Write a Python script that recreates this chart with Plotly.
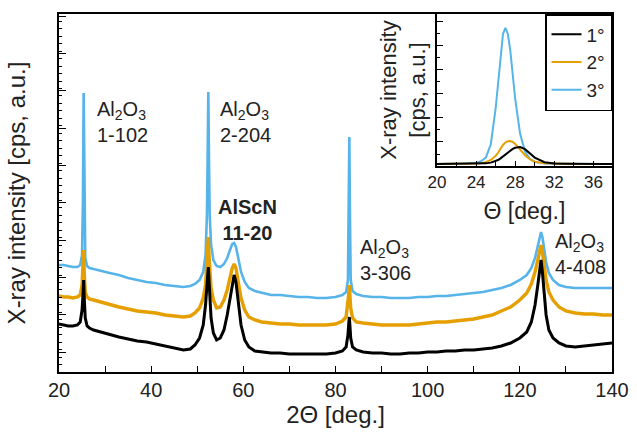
import plotly.graph_objects as go

# ---------------- main XRD scans (2-theta) ----------------
two_theta = [20, 21, 22, 23, 24, 24.6, 25.0, 25.2, 25.35, 25.5,
             25.7, 26.1, 26.6, 27.5, 29, 31, 33, 35, 37, 39,
             41, 43, 45, 47, 48.5, 49.5, 50.5, 51.3, 51.8, 52.1,
             52.25, 52.4, 52.55, 52.7, 53.0, 53.5, 54.2, 55, 55.8, 56.5,
             57.1, 57.6, 58.0, 58.4, 58.9, 59.5, 60.3, 61.2, 62.5, 64,
             66, 68, 70, 72, 74, 76, 78, 80, 81.5, 82.3,
             82.7, 82.85, 83.0, 83.15, 83.3, 83.7, 84.5, 86, 88, 90,
             92, 94, 96, 98, 100, 102, 104, 106, 108, 110,
             112, 114, 116, 118, 120, 121.5, 122.5, 123.3, 123.9, 124.3,
             124.6, 124.9, 125.3, 125.7, 126.3, 127.2, 128.5, 130, 132, 134,
             136, 138, 140]

int_3deg = [107, 107, 106, 105, 105, 107, 117, 172, 279, 172,
            114, 106, 104, 103, 101, 99, 97, 94, 92, 90,
            89, 87, 86, 85, 86, 88, 92, 100, 117, 157,
            212, 280, 212, 157, 127, 112, 106, 105, 108, 114,
            122, 128, 129, 125, 114, 100, 90, 84, 81, 79,
            77, 77, 76, 75, 75, 74, 74, 75, 77, 80,
            92, 152, 235, 152, 92, 81, 78, 76, 75, 75,
            74, 74, 74, 75, 75, 76, 76, 77, 78, 79,
            80, 82, 84, 87, 92, 97, 104, 114, 126, 135,
            140, 135, 122, 110, 99, 92, 87, 85, 84, 84,
            84, 84, 84]

int_2deg = [76, 75, 75, 74, 75, 77, 87, 102, 122, 97,
            80, 75, 73, 72, 70, 67, 65, 63, 61, 60,
            59, 57, 56, 55, 56, 59, 64, 74, 87, 107,
            122, 135, 117, 100, 84, 72, 64, 65, 72, 82,
            94, 104, 108, 104, 90, 74, 62, 55, 52, 50,
            49, 48, 48, 47, 47, 47, 47, 48, 51, 55,
            67, 77, 87, 77, 64, 54, 50, 49, 48, 47,
            47, 47, 47, 48, 49, 50, 50, 51, 52, 53,
            55, 57, 61, 65, 72, 79, 88, 100, 112, 122,
            127, 120, 106, 92, 80, 72, 65, 61, 59, 58,
            58, 57, 57]

int_1deg = [48, 47, 46, 46, 47, 50, 62, 77, 92, 72,
            54, 46, 44, 42, 40, 37, 35, 33, 31, 30,
            28, 26, 24, 22, 23, 27, 34, 47, 67, 87,
            97, 105, 92, 74, 54, 39, 32, 34, 42, 57,
            74, 89, 97, 90, 70, 47, 32, 25, 21, 20,
            19, 19, 18, 18, 18, 18, 18, 19, 21, 25,
            37, 47, 55, 45, 34, 25, 22, 20, 19, 19,
            18, 18, 19, 19, 20, 20, 21, 21, 22, 22,
            23, 24, 26, 29, 34, 40, 50, 67, 87, 104,
            112, 100, 77, 57, 42, 34, 29, 26, 25, 26,
            27, 28, 29]

# ---------------- inset rocking curves (theta) ----------------
theta = [20, 21, 22, 23, 24, 24.5, 25, 25.5, 26, 26.25,
         26.5, 26.75, 27, 27.25, 27.5, 27.75, 28, 28.5, 29, 29.5,
         30, 31, 32, 33, 34, 35, 36, 37, 38]
rc_3deg = [0.08, 0.08, 0.09, 0.10, 0.14, 0.20, 0.35, 0.90, 2.40, 3.50,
           4.70, 5.50, 5.75, 5.50, 4.80, 3.80, 2.80, 1.35, 0.60, 0.30,
           0.18, 0.10, 0.09, 0.08, 0.08, 0.08, 0.08, 0.08, 0.08]
rc_2deg = [0.08, 0.08, 0.08, 0.09, 0.10, 0.12, 0.16, 0.25, 0.42, 0.55,
           0.72, 0.88, 0.98, 1.03, 1.04, 1.00, 0.92, 0.70, 0.45, 0.28,
           0.18, 0.11, 0.09, 0.08, 0.08, 0.08, 0.08, 0.08, 0.08]
rc_1deg = [0.08, 0.08, 0.08, 0.08, 0.09, 0.10, 0.11, 0.14, 0.20, 0.25,
           0.32, 0.40, 0.48, 0.56, 0.64, 0.71, 0.76, 0.79, 0.70, 0.52,
           0.35, 0.16, 0.10, 0.09, 0.08, 0.08, 0.08, 0.08, 0.08]

series_names = ["1°", "2°", "3°"]
colors = {"1°": "#000000", "2°": "#E69F00", "3°": "#56B4E9"}
widths = {"1°": 3.0, "2°": 3.4, "3°": 2.6}

# peak labels
peak_label_x = [27.8, 54.5, 60.8, 84.9, 127.2]
peak_label_y = [250, 250, 152, 112, 118]
peak_labels = ["Al<sub>2</sub>O<sub>3</sub><br>1-102",
               "Al<sub>2</sub>O<sub>3</sub><br>2-204",
               "<b>AlScN</b><br><b>11-20</b>",
               "Al<sub>2</sub>O<sub>3</sub><br>3-306",
               "Al<sub>2</sub>O<sub>3</sub><br>4-408"]
peak_anchor = ["left", "left", "center", "left", "left"]

FONT = "Liberation Sans, Arial, sans-serif"
TXT = "#222222"

fig = go.Figure()

main_data = {"1°": int_1deg, "2°": int_2deg, "3°": int_3deg}
inset_data = {"1°": rc_1deg, "2°": rc_2deg, "3°": rc_3deg}

# draw blue first, black on top
for nm in ["3°", "2°", "1°"]:
    fig.add_trace(go.Scatter(x=two_theta, y=main_data[nm], mode="lines",
                             line=dict(color=colors[nm], width=widths[nm]),
                             showlegend=False, xaxis="x", yaxis="y"))
for nm in ["3°", "2°", "1°"]:
    fig.add_trace(go.Scatter(x=theta, y=inset_data[nm], mode="lines", name=nm,
                             line=dict(color=colors[nm], width=2),
                             xaxis="x2", yaxis="y2"))

for xv, yv, t, a in zip(peak_label_x, peak_label_y, peak_labels, peak_anchor):
    fig.add_annotation(x=xv, y=yv, xref="x", yref="y", text=t, showarrow=False,
                       xanchor=a, yanchor="middle", align=a,
                       font=dict(size=20, color=TXT, family=FONT))

axis_common = dict(showline=True, linecolor="black", linewidth=1.5, mirror=True,
                   showgrid=False, zeroline=False, ticks="inside", automargin=False,
                   tickcolor="black", tickwidth=1.3)

fig.update_layout(
    width=637, height=436,
    margin=dict(l=59, r=25, t=14, b=64, autoexpand=False),
    paper_bgcolor="white", plot_bgcolor="white",
    font=dict(family=FONT, color=TXT),
    xaxis=dict(**axis_common, range=[20, 140], domain=[0, 1], tick0=20, dtick=20,
               ticklen=6, tickfont=dict(size=20, color=TXT), ticklabelstandoff=-1,
               minor=dict(dtick=10, ticks="inside", ticklen=6, tickwidth=1.3, tickcolor="black"),
               title=dict(text="2Θ [deg.]", font=dict(size=24, color=TXT), standoff=2)),
    yaxis=dict(**axis_common, range=[0, 358], domain=[0, 1], tick0=20, dtick=37.3,
               ticklen=7, showticklabels=False,
               minor=dict(dtick=7.46, ticks="inside", ticklen=3, tickwidth=1, tickcolor="black"),
               title=dict(text="X-ray intensity [cps, a.u.]", font=dict(size=24, color=TXT), standoff=25)),
    xaxis2=dict(**axis_common, anchor="y2", domain=[0.6835, 1], range=[20, 37.9],
                tick0=20, dtick=4, ticklen=5, tickfont=dict(size=17, color=TXT),
                minor=dict(dtick=2, ticks="inside", ticklen=4, tickwidth=1, tickcolor="black"),
                title=dict(text="Θ [deg.]", font=dict(size=23, color=TXT), standoff=12)),
    yaxis2=dict(**axis_common, anchor="x2", domain=[0.5754, 1], range=[0, 6.33],
                dtick=1, ticklen=6, showticklabels=False,
                minor=dict(dtick=0.5, ticks="inside", ticklen=3, tickwidth=1, tickcolor="black"),
                title=dict(text="X-ray intensity<br>[cps, a.u.]", font=dict(size=22, color=TXT), standoff=4)),
    legend=dict(x=1, y=1, xanchor="right", yanchor="top", xref="paper", yref="paper",
                bgcolor="white", bordercolor="black", borderwidth=1.5,
                font=dict(size=19, color=TXT, family=FONT), traceorder="reversed",
                tracegroupgap=0, itemwidth=30),
)

fig.write_html("out.html", config={"displayModeBar": False},
               post_script="document.body.style.margin='0px';")
